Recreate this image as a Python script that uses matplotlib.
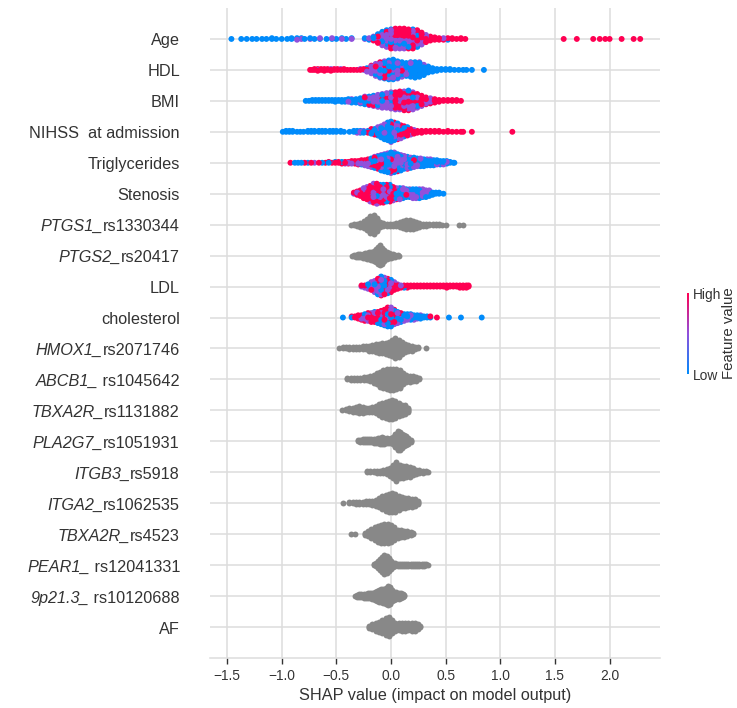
import numpy as np
import matplotlib
matplotlib.use("Agg")
import matplotlib.pyplot as plt
from matplotlib.colors import LinearSegmentedColormap, Normalize
from matplotlib.cm import ScalarMappable
from matplotlib.offsetbox import TextArea, HPacker, AnnotationBbox

plt.rcParams["font.family"] = ["Liberation Sans", "DejaVu Sans"]

# SHAP value bins
# coloured rows: (shap, n_low, n_mid, n_high) ; grey rows: (shap, n)
age = [(-1.46, 1, 0, 0), (-1.37, 1, 0, 0), (-1.32, 1, 0, 0), (-1.27, 1, 0, 0), (-1.23, 1, 0, 0),
       (-1.18, 1, 0, 0), (-1.14, 1, 0, 0), (-1.09, 2, 0, 0), (-1.05, 1, 0, 0), (-1.00, 1, 0, 0),
       (-0.95, 1, 0, 0), (-0.91, 2, 0, 0), (-0.86, 2, 1, 0), (-0.82, 1, 1, 0), (-0.79, 1, 0, 0),
       (-0.74, 1, 1, 0), (-0.70, 1, 0, 0), (-0.65, 1, 1, 0), (-0.59, 1, 0, 0), (-0.54, 1, 1, 0),
       (-0.50, 1, 0, 0), (-0.45, 1, 1, 0), (-0.41, 1, 0, 0), (-0.36, 1, 1, 0),
       (-0.24, 1, 1, 0), (-0.20, 2, 1, 0), (-0.16, 2, 3, 1), (-0.12, 3, 5, 4), (-0.08, 4, 7, 7),
       (-0.04, 4, 8, 10), (0.00, 4, 9, 12), (0.04, 4, 9, 13), (0.08, 4, 9, 13), (0.12, 3, 10, 13),
       (0.16, 3, 9, 13), (0.20, 2, 9, 14), (0.24, 2, 8, 12), (0.28, 1, 6, 9), (0.32, 1, 3, 6),
       (0.36, 0, 1, 5), (0.40, 0, 0, 4), (0.44, 0, 0, 3), (0.48, 0, 1, 2), (0.52, 1, 0, 2),
       (0.56, 0, 0, 2), (0.60, 0, 0, 1), (0.64, 0, 0, 2), (0.68, 0, 0, 1),
       (1.58, 0, 0, 1), (1.70, 0, 0, 1), (1.85, 0, 0, 1), (1.91, 0, 0, 1), (1.96, 0, 0, 1),
       (2.00, 0, 0, 1), (2.11, 0, 0, 1), (2.22, 0, 0, 1), (2.28, 0, 0, 1)]

hdl = [(-0.74, 0, 0, 1), (-0.72, 0, 0, 1), (-0.70, 0, 0, 2), (-0.67, 0, 1, 2), (-0.64, 0, 0, 2),
       (-0.61, 0, 0, 3), (-0.58, 0, 0, 2), (-0.55, 0, 1, 2), (-0.52, 0, 0, 2), (-0.49, 0, 0, 2),
       (-0.46, 0, 1, 1), (-0.43, 0, 0, 2), (-0.40, 0, 0, 1), (-0.37, 0, 0, 1), (-0.34, 0, 0, 1),
       (-0.31, 0, 0, 1), (-0.28, 0, 1, 1), (-0.25, 0, 1, 1), (-0.22, 1, 2, 2), (-0.18, 2, 5, 3),
       (-0.14, 4, 7, 4), (-0.10, 7, 8, 4), (-0.06, 10, 8, 3), (-0.02, 13, 8, 2), (0.02, 15, 7, 2),
       (0.06, 15, 5, 1), (0.10, 13, 4, 1), (0.14, 13, 3, 0), (0.18, 15, 3, 0), (0.22, 17, 2, 0),
       (0.26, 16, 2, 0), (0.30, 12, 1, 0), (0.34, 8, 0, 0), (0.38, 5, 0, 0), (0.42, 3, 0, 0),
       (0.46, 2, 0, 0), (0.50, 2, 0, 0), (0.54, 2, 0, 0), (0.58, 1, 0, 0), (0.62, 1, 0, 0),
       (0.66, 1, 0, 0), (0.69, 1, 0, 0), (0.74, 1, 0, 0), (0.85, 1, 0, 0)]

bmi = [(-0.78, 1, 0, 0), (-0.75, 1, 0, 0), (-0.72, 2, 0, 0), (-0.69, 2, 0, 0), (-0.66, 2, 0, 0),
       (-0.63, 2, 0, 0), (-0.60, 2, 0, 0), (-0.57, 2, 0, 0), (-0.54, 2, 0, 0), (-0.51, 3, 0, 0),
       (-0.48, 2, 0, 0), (-0.45, 3, 0, 0), (-0.42, 3, 0, 0), (-0.39, 3, 1, 0), (-0.36, 4, 1, 0),
       (-0.32, 4, 1, 0), (-0.28, 5, 2, 0), (-0.24, 6, 3, 1), (-0.20, 5, 5, 1), (-0.16, 5, 6, 2),
       (-0.12, 4, 7, 4), (-0.08, 4, 8, 5), (-0.04, 3, 9, 6), (0.00, 3, 10, 7), (0.04, 3, 10, 8),
       (0.08, 2, 11, 9), (0.12, 2, 10, 11), (0.16, 2, 10, 12), (0.20, 1, 9, 11), (0.24, 1, 7, 9),
       (0.28, 0, 5, 8), (0.32, 0, 3, 6), (0.36, 0, 2, 5), (0.40, 0, 1, 4), (0.44, 0, 0, 3),
       (0.48, 0, 0, 2), (0.52, 0, 0, 2), (0.56, 0, 0, 2), (0.60, 0, 0, 2), (0.64, 0, 0, 1)]

nihss = [(-0.99, 1, 0, 0), (-0.96, 2, 0, 0), (-0.93, 2, 0, 0), (-0.90, 2, 0, 0), (-0.86, 1, 0, 0),
         (-0.83, 1, 0, 0), (-0.80, 1, 0, 0), (-0.76, 2, 0, 0), (-0.73, 2, 0, 0), (-0.70, 2, 0, 0),
         (-0.66, 2, 0, 0), (-0.63, 2, 0, 0), (-0.60, 2, 0, 0), (-0.56, 2, 0, 0), (-0.53, 2, 0, 0),
         (-0.50, 2, 0, 0), (-0.46, 2, 0, 0), (-0.43, 1, 0, 0), (-0.38, 1, 0, 0), (-0.34, 2, 0, 0),
         (-0.31, 2, 1, 0), (-0.28, 2, 1, 0), (-0.25, 2, 1, 0), (-0.21, 2, 0, 1), (-0.18, 3, 2, 1),
         (-0.15, 4, 2, 1), (-0.12, 5, 3, 2), (-0.09, 7, 4, 2), (-0.06, 9, 5, 3), (-0.03, 11, 6, 3),
         (0.00, 12, 7, 4), (0.03, 10, 6, 4), (0.06, 8, 5, 5), (0.09, 5, 4, 6), (0.12, 3, 3, 6),
         (0.15, 2, 2, 6), (0.18, 1, 1, 5), (0.21, 0, 1, 4), (0.24, 0, 0, 3), (0.28, 0, 0, 3),
         (0.32, 0, 0, 2), (0.36, 0, 0, 2), (0.40, 0, 0, 2), (0.44, 0, 0, 2), (0.48, 0, 0, 1),
         (0.52, 0, 0, 2), (0.56, 0, 0, 1), (0.60, 0, 0, 1), (0.64, 0, 0, 1), (0.66, 0, 0, 1),
         (0.74, 0, 0, 1), (1.11, 0, 0, 1)]

trig = [(-0.92, 0, 0, 1), (-0.88, 1, 0, 0), (-0.85, 1, 0, 0), (-0.82, 1, 0, 0), (-0.79, 0, 0, 1),
        (-0.76, 1, 0, 0), (-0.73, 0, 0, 1), (-0.70, 0, 1, 0), (-0.66, 0, 0, 1), (-0.63, 1, 0, 0),
        (-0.60, 0, 0, 1), (-0.57, 1, 0, 1), (-0.54, 0, 0, 1), (-0.51, 1, 0, 1), (-0.48, 0, 0, 2),
        (-0.45, 1, 0, 2), (-0.42, 0, 1, 2), (-0.39, 0, 1, 2), (-0.36, 0, 1, 3), (-0.33, 0, 1, 3),
        (-0.30, 0, 2, 3), (-0.27, 1, 2, 3), (-0.24, 1, 3, 3), (-0.21, 2, 3, 4), (-0.18, 3, 4, 4),
        (-0.15, 4, 5, 5), (-0.12, 5, 6, 5), (-0.09, 6, 7, 6), (-0.06, 7, 8, 6), (-0.03, 8, 9, 6),
        (0.00, 10, 9, 6), (0.03, 10, 9, 5), (0.06, 10, 8, 3), (0.09, 9, 7, 3), (0.12, 8, 6, 2),
        (0.15, 8, 5, 2), (0.18, 7, 5, 1), (0.21, 7, 4, 1), (0.24, 6, 4, 0), (0.27, 6, 4, 0),
        (0.30, 6, 3, 0), (0.33, 5, 3, 0), (0.36, 5, 3, 0), (0.39, 5, 2, 0), (0.42, 4, 2, 0),
        (0.45, 4, 1, 0), (0.48, 3, 2, 0), (0.51, 3, 1, 0), (0.54, 2, 0, 0), (0.57, 1, 0, 0),
        (0.58, 1, 0, 0)]

stenosis = [(-0.34, 0, 1, 1), (-0.31, 0, 1, 3), (-0.28, 0, 2, 4), (-0.25, 1, 3, 6), (-0.22, 1, 4, 7),
            (-0.19, 1, 5, 9), (-0.16, 2, 6, 10), (-0.13, 2, 6, 11), (-0.10, 2, 6, 9), (-0.07, 3, 6, 8),
            (-0.04, 3, 6, 7), (-0.01, 4, 6, 6), (0.02, 4, 5, 4), (0.05, 4, 4, 3), (0.08, 5, 4, 2),
            (0.11, 5, 3, 2), (0.14, 4, 3, 1), (0.17, 5, 3, 0), (0.20, 5, 4, 0), (0.23, 6, 3, 0),
            (0.26, 6, 3, 0), (0.29, 5, 3, 0), (0.32, 5, 2, 0), (0.35, 4, 2, 0), (0.38, 3, 0, 0),
            (0.41, 2, 0, 0), (0.44, 2, 0, 0), (0.48, 1, 0, 0)]

ptgs1 = [(-0.37, 1), (-0.34, 2), (-0.31, 3), (-0.28, 5), (-0.25, 8), (-0.22, 12), (-0.19, 18),
         (-0.16, 20), (-0.13, 14), (-0.10, 6), (-0.07, 4), (-0.04, 3), (-0.01, 3), (0.02, 3),
         (0.05, 4), (0.08, 6), (0.11, 8), (0.14, 10), (0.17, 10), (0.20, 9), (0.23, 7), (0.26, 5),
         (0.29, 3), (0.32, 3), (0.35, 2), (0.38, 2), (0.41, 2), (0.44, 2), (0.47, 1), (0.50, 1),
         (0.62, 1), (0.66, 1)]

ptgs2 = [(-0.36, 1), (-0.34, 2), (-0.32, 3), (-0.30, 4), (-0.28, 4), (-0.26, 5), (-0.24, 6),
         (-0.22, 7), (-0.20, 8), (-0.18, 9), (-0.16, 11), (-0.14, 14), (-0.12, 18), (-0.10, 20),
         (-0.08, 17), (-0.06, 12), (-0.04, 8), (-0.02, 6), (0.00, 5), (0.02, 4), (0.04, 3),
         (0.06, 2), (0.07, 1)]

ldl = [(-0.27, 0, 1, 1), (-0.24, 1, 1, 1), (-0.21, 2, 2, 1), (-0.18, 3, 3, 2), (-0.15, 4, 5, 2),
       (-0.12, 6, 6, 3), (-0.09, 7, 7, 4), (-0.06, 6, 6, 4), (-0.03, 5, 5, 4), (0.00, 3, 4, 5),
       (0.03, 2, 2, 4), (0.06, 1, 1, 3), (0.09, 0, 1, 2), (0.12, 1, 0, 2), (0.15, 1, 0, 2),
       (0.18, 0, 0, 2), (0.21, 0, 0, 2), (0.24, 0, 0, 2), (0.27, 0, 0, 2), (0.30, 0, 0, 2),
       (0.33, 0, 0, 2), (0.36, 0, 0, 2), (0.39, 0, 0, 2), (0.42, 0, 0, 2), (0.45, 0, 0, 2),
       (0.48, 0, 0, 2), (0.51, 0, 0, 3), (0.54, 0, 0, 2), (0.57, 0, 0, 2), (0.60, 0, 0, 2),
       (0.63, 0, 0, 3), (0.66, 0, 0, 3), (0.69, 0, 0, 3), (0.71, 0, 0, 2)]

chol = [(-0.44, 1, 0, 0), (-0.36, 1, 0, 1), (-0.33, 0, 0, 2), (-0.30, 0, 1, 3), (-0.27, 0, 1, 4),
        (-0.24, 1, 1, 5), (-0.21, 1, 2, 5), (-0.18, 1, 2, 6), (-0.15, 1, 3, 6), (-0.12, 2, 3, 6),
        (-0.09, 3, 4, 6), (-0.06, 5, 5, 5), (-0.03, 7, 6, 5), (0.00, 8, 6, 4), (0.03, 6, 5, 3),
        (0.06, 5, 4, 2), (0.09, 5, 3, 1), (0.12, 5, 2, 0), (0.15, 4, 2, 0), (0.18, 4, 2, 0),
        (0.21, 4, 1, 0), (0.24, 3, 1, 0), (0.27, 3, 1, 0), (0.30, 2, 0, 0), (0.33, 2, 0, 0),
        (0.36, 1, 0, 1), (0.42, 0, 0, 1), (0.53, 1, 0, 0), (0.64, 1, 0, 0), (0.83, 1, 0, 0)]

hmox1 = [(-0.48, 1), (-0.44, 2), (-0.41, 2), (-0.38, 3), (-0.35, 3), (-0.32, 3), (-0.29, 3),
         (-0.26, 4), (-0.23, 4), (-0.20, 5), (-0.17, 6), (-0.14, 8), (-0.11, 9), (-0.08, 10),
         (-0.05, 11), (-0.02, 13), (0.01, 16), (0.04, 20), (0.07, 17), (0.10, 12), (0.13, 8),
         (0.16, 6), (0.19, 5), (0.22, 3), (0.25, 2), (0.32, 1)]

abcb1 = [(-0.40, 2), (-0.37, 3), (-0.34, 3), (-0.31, 3), (-0.28, 3), (-0.25, 4), (-0.22, 4),
         (-0.19, 6), (-0.16, 9), (-0.13, 12), (-0.10, 15), (-0.07, 18), (-0.04, 20), (-0.01, 21),
         (0.02, 21), (0.05, 20), (0.08, 18), (0.11, 12), (0.14, 8), (0.17, 7), (0.20, 6),
         (0.23, 5), (0.26, 2)]

tbxa2r_1131882 = [(-0.45, 1), (-0.41, 2), (-0.38, 4), (-0.35, 5), (-0.32, 6), (-0.29, 8), (-0.26, 7),
                  (-0.23, 5), (-0.20, 5), (-0.17, 6), (-0.14, 8), (-0.11, 12), (-0.08, 15),
                  (-0.05, 17), (-0.02, 19), (0.01, 20), (0.04, 18), (0.07, 14), (0.10, 11),
                  (0.13, 10), (0.16, 5)]

pla2g7 = [(-0.30, 2), (-0.28, 3), (-0.26, 4), (-0.24, 4), (-0.22, 4), (-0.20, 4), (-0.18, 4),
          (-0.16, 5), (-0.14, 5), (-0.12, 6), (-0.10, 7), (-0.08, 8), (-0.06, 7), (-0.04, 6),
          (-0.02, 5), (0.00, 6), (0.02, 8), (0.04, 14), (0.06, 20), (0.08, 19), (0.10, 15),
          (0.12, 12), (0.14, 10), (0.16, 7), (0.18, 3)]

itgb3 = [(-0.22, 2), (-0.19, 2), (-0.16, 2), (-0.13, 3), (-0.10, 3), (-0.07, 4), (-0.04, 6),
         (-0.01, 9), (0.02, 14), (0.05, 20), (0.08, 14), (0.11, 13), (0.14, 12), (0.17, 11),
         (0.20, 8), (0.23, 5), (0.26, 4), (0.29, 3), (0.32, 2), (0.335, 1)]

itga2 = [(-0.44, 1), (-0.38, 2), (-0.35, 2), (-0.32, 3), (-0.29, 3), (-0.26, 3), (-0.23, 4),
         (-0.20, 4), (-0.17, 5), (-0.14, 7), (-0.11, 10), (-0.08, 14), (-0.05, 17), (-0.02, 19),
         (0.01, 20), (0.04, 19), (0.07, 15), (0.10, 12), (0.13, 11), (0.16, 10), (0.19, 9),
         (0.22, 8), (0.25, 4)]

tbxa2r_4523 = [(-0.37, 1), (-0.33, 1), (-0.24, 3), (-0.21, 6), (-0.18, 10), (-0.15, 14), (-0.12, 17),
               (-0.09, 19), (-0.06, 20), (-0.03, 20), (0.00, 18), (0.03, 14), (0.06, 9), (0.09, 8),
               (0.12, 7), (0.15, 6), (0.18, 4), (0.20, 2)]

pear1 = [(-0.16, 2), (-0.14, 4), (-0.12, 8), (-0.10, 12), (-0.08, 16), (-0.06, 20), (-0.04, 18),
         (-0.02, 14), (0.00, 9), (0.02, 5), (0.04, 4), (0.06, 3), (0.08, 3), (0.10, 3), (0.12, 3),
         (0.14, 3), (0.16, 3), (0.18, 3), (0.20, 3), (0.22, 3), (0.24, 3), (0.26, 3), (0.28, 3),
         (0.30, 3), (0.32, 2), (0.335, 1)]

p9p21 = [(-0.33, 1), (-0.31, 3), (-0.29, 4), (-0.27, 4), (-0.25, 5), (-0.23, 5), (-0.21, 6),
         (-0.19, 6), (-0.17, 7), (-0.15, 9), (-0.13, 11), (-0.11, 13), (-0.09, 14), (-0.07, 15),
         (-0.05, 17), (-0.03, 20), (-0.01, 18), (0.01, 12), (0.03, 9), (0.05, 8), (0.07, 7),
         (0.09, 6), (0.11, 4), (0.12, 2)]

af = [(-0.20, 3), (-0.17, 6), (-0.14, 9), (-0.11, 11), (-0.08, 14), (-0.05, 18), (-0.02, 20),
      (0.01, 14), (0.04, 9), (0.07, 8), (0.10, 9), (0.13, 9), (0.16, 8), (0.19, 9), (0.22, 9),
      (0.25, 6), (0.265, 2)]

# (italic gene part, plain part), top to bottom
labels = [("", "Age"), ("", "HDL"), ("", "BMI"), ("", "NIHSS  at admission"),
          ("", "Triglycerides"), ("", "Stenosis"), ("PTGS1_", "rs1330344"), ("PTGS2_", "rs20417"),
          ("", "LDL"), ("", "cholesterol"), ("HMOX1_", "rs2071746"), ("ABCB1_", " rs1045642"),
          ("TBXA2R_", "rs1131882"), ("PLA2G7_", "rs1051931"), ("ITGB3_", "rs5918"),
          ("ITGA2_", "rs1062535"), ("TBXA2R_", "rs4523"), ("PEAR1_", " rs12041331"),
          ("9p21.3_", " rs10120688"), ("", "AF")]
rows = [age, hdl, bmi, nihss, trig, stenosis, ptgs1, ptgs2, ldl, chol, hmox1, abcb1,
        tbxa2r_1131882, pla2g7, itgb3, itga2, tbxa2r_4523, pear1, p9p21, af]

cmap = LinearSegmentedColormap.from_list("shap_rb", ["#008bfb", "#9150dc", "#ff0052"])
text_color = "#333333"
GOLD = 0.6180339887


def expand(entries):
    # unpack the bins into single points, colours mixed inside each bin
    xs, fv = [], []
    for i, e in enumerate(entries):
        v, counts = e[0], e[1:]
        levels = [0.0, 0.5, 1.0] if len(counts) == 3 else [np.nan]
        cols = []
        for lev, c in zip(levels, counts):
            cols += [lev] * c
        order = np.argsort([(j * GOLD + i * 0.37) % 1 for j in range(len(cols))])
        for j in order:
            xs.append(v)
            fv.append(cols[j])
    return np.array(xs), np.array(fv)


def swarm(x, row_height=0.4, nbins=100):
    # same stacking as shap's beeswarm
    quant = np.round(nbins * (x - x.min()) / (x.max() - x.min() + 1e-8))
    inds = np.argsort(quant, kind="stable")
    ys = np.zeros(len(x))
    layer, last = 0, -1
    for ind in inds:
        if quant[ind] != last:
            layer = 0
        ys[ind] = np.ceil(layer / 2) * ((layer % 2) * 2 - 1)
        layer += 1
        last = quant[ind]
    ys *= 0.9 * (row_height / np.max(ys + 1))
    return ys


fig = plt.figure(figsize=(7.37, 7.08), dpi=100)
ax = fig.add_axes([210 / 737, 50 / 708, 450 / 737, 650 / 708])

n = len(rows)
for k, entries in enumerate(rows):
    pos = n - 1 - k
    xs, fv = expand(entries)
    ys = swarm(xs) + pos
    # draw in a scrambled order so no colour always sits on top
    draw = np.argsort((np.arange(len(xs)) * GOLD) % 1)
    xs, ys, fv = xs[draw], ys[draw], fv[draw]
    if np.isnan(fv).all():
        ax.scatter(xs, ys, s=18, color="#888888", linewidth=0, zorder=3)
    else:
        ax.scatter(xs, ys, s=18, c=fv, cmap=cmap, vmin=0, vmax=1, linewidth=0, zorder=3)

    it, plain = labels[k]
    parts = []
    if it:
        parts.append(TextArea(it, textprops=dict(fontsize=11.7, color=text_color, style="italic")))
    parts.append(TextArea(plain, textprops=dict(fontsize=11.7, color=text_color)))
    box = HPacker(children=parts, pad=0, sep=0, align="baseline")
    ab = AnnotationBbox(box, (0, pos), xycoords=("axes fraction", "data"),
                        xybox=(-30, -2), boxcoords="offset pixels", box_alignment=(1, 0.5),
                        frameon=False, pad=0, annotation_clip=False)
    ax.add_artist(ab)

ax.set_xlim(-1.656, 2.461)
ax.set_ylim(-1, n)
ax.set_xticks(np.arange(-1.5, 2.01, 0.5))
ax.set_yticks(range(n))
ax.set_yticklabels([])
ax.grid(True, color="#dddddd", linewidth=1.1)
ax.set_axisbelow(True)
for side in ["left", "right", "top"]:
    ax.spines[side].set_visible(False)
ax.spines["bottom"].set_color("#dddddd")
ax.spines["bottom"].set_linewidth(1.1)
ax.tick_params(axis="x", direction="out", length=4.3, width=1, color=text_color,
               labelcolor=text_color, labelsize=9.9)
ax.tick_params(axis="y", length=0)
ax.set_xlabel("SHAP value (impact on model output)", fontsize=11.7, color=text_color)

# colour bar
cax = fig.add_axes([687 / 737, (708 - 374) / 708, 2.2 / 737, 81 / 708])
cb = fig.colorbar(ScalarMappable(norm=Normalize(0, 1), cmap=cmap), cax=cax, ticks=[0, 1])
cb.set_ticklabels(["Low", "High"])
cb.outline.set_visible(False)
cb.ax.tick_params(length=0, labelsize=9.9, pad=3, labelcolor=text_color)
cb.set_label("Feature value", size=10.8, labelpad=0, color=text_color)

fig.savefig("out.png", dpi=100)
